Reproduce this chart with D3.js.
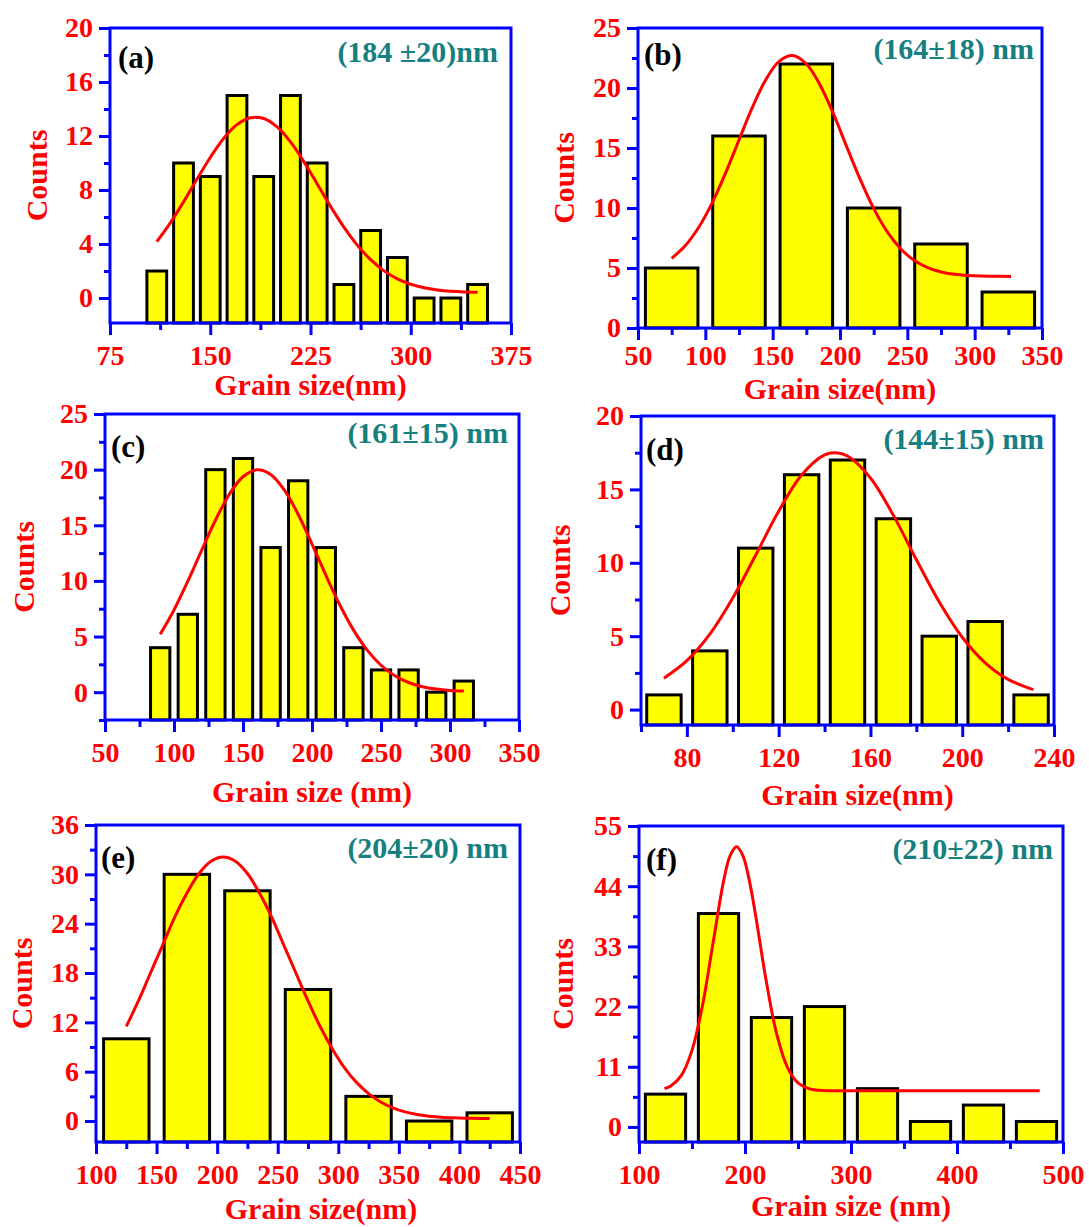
<!DOCTYPE html>
<html lang="en">
<head>
<meta charset="UTF-8">
<title>Grain size histograms</title>
<style>
    body { margin: 0; background: #fff; }
    svg text { font-family: 'Liberation Serif', 'Times New Roman', serif; font-weight: bold; }
    .frame { fill: none; stroke: #0000ff; stroke-width: 3; }
    .bar { fill: #ffff00; stroke: #000; stroke-width: 3; }
    .fit { fill: none; stroke: #ff0000; stroke-width: 3; }
    .axisTitle { fill: #ff0000; font-size: 30px; }
    .tag { fill: #000; font-size: 31px; }
    .size { fill: #168080; font-size: 30px; }
</style>
<script src="https://d3js.org/d3.v7.min.js"></script>
</head>
<body>
<script>
    // (a)
    const aBins = [110, 130, 150, 170, 190, 210, 230, 250, 270, 290, 310, 330, 350];
    const aCounts = [2, 10, 9, 15, 9, 15, 10, 1, 5, 3, 0, 0, 1];
    const aFitX = [110, 120, 130, 140, 150, 160, 170, 180, 190, 200, 210, 220, 230, 240, 250, 260, 270, 280, 290, 300, 310, 320, 330, 340, 350];
    const aFitY = [4.17, 5.55, 7.12, 8.79, 10.41, 11.82, 12.84, 13.35, 13.3, 12.67, 11.56, 10.1, 8.45, 6.79, 5.25, 3.92, 2.84, 2.01, 1.42, 1.02, 0.76, 0.6, 0.5, 0.45, 0.43];
    const aXTicks = [75, 150, 225, 300, 375];
    const aYTicks = [0, 4, 8, 12, 16, 20];

    // (b)
    const bBins = [75, 125, 175, 225, 275, 325];
    const bCounts = [5, 16, 22, 10, 7, 3];
    const bFitX = [75, 85, 95, 105, 115, 125, 135, 145, 155, 165, 175, 185, 195, 205, 215, 225, 235, 245, 255, 265, 275, 285, 295, 305, 315, 327];
    const bFitY = [5.8, 6.85, 8.38, 10.41, 12.91, 15.67, 18.4, 20.71, 22.24, 22.7, 22.0, 20.3, 17.88, 15.1, 12.38, 9.97, 8.03, 6.61, 5.64, 5.03, 4.67, 4.48, 4.38, 4.33, 4.31, 4.3];
    const bXTicks = [50, 100, 150, 200, 250, 300, 350];
    const bYTicks = [0, 5, 10, 15, 20, 25];

    // (c)
    const cBins = [90, 110, 130, 150, 170, 190, 210, 230, 250, 270, 290, 310];
    const cCounts = [4, 7, 20, 21, 13, 19, 13, 4, 2, 2, 0, 1];
    const cFitX = [90, 100, 110, 120, 130, 140, 150, 160, 170, 180, 190, 200, 210, 220, 230, 240, 250, 260, 270, 280, 290, 300, 310];
    const cFitY = [5.2, 7.39, 9.97, 12.75, 15.45, 17.77, 19.36, 19.98, 19.57, 18.16, 15.97, 13.31, 10.52, 7.88, 5.6, 3.78, 2.42, 1.48, 0.87, 0.49, 0.28, 0.16, 0.1];
    const cXTicks = [50, 100, 150, 200, 250, 300, 350];
    const cYTicks = [0, 5, 10, 15, 20, 25];

    // (d)
    const dBins = [70, 90, 110, 130, 150, 170, 190, 210, 230];
    const dCounts = [1, 4, 11, 16, 17, 13, 5, 6, 1];
    const dFitX = [70, 80, 90, 100, 110, 120, 130, 140, 145, 150, 160, 170, 180, 190, 200, 210, 220, 231];
    const dFitY = [2.14, 3.33, 5.14, 7.6, 10.53, 13.51, 15.98, 17.35, 17.5, 17.27, 15.78, 13.23, 10.22, 7.33, 4.93, 3.19, 2.06, 1.36];
    const dXTicks = [80, 120, 160, 200, 240];
    const dYTicks = [0, 5, 10, 15, 20];

    // (e)
    const eBins = [125, 175, 225, 275, 325, 375, 425];
    const eCounts = [10, 30, 28, 16, 3, 0, 1];
    const eFitX = [125, 135, 145, 155, 165, 175, 185, 195, 205, 215, 225, 235, 245, 255, 265, 275, 285, 295, 305, 315, 325, 335, 345, 355, 365, 375, 385, 395, 410, 425];
    const eFitY = [11.5, 14.6, 18.0, 21.4, 24.8, 27.7, 30.1, 31.6, 32.1, 31.6, 30.1, 27.7, 24.8, 21.4, 18.0, 14.6, 11.5, 8.8, 6.5, 4.7, 3.34, 2.32, 1.6, 1.11, 0.79, 0.59, 0.46, 0.39, 0.33, 0.31];
    const eXTicks = [100, 150, 200, 250, 300, 350, 400, 450];
    const eYTicks = [0, 6, 12, 18, 24, 30, 36];

    // (f)
    const fBins = [125, 175, 225, 275, 325, 375, 425, 475];
    const fCounts = [6, 39, 20, 22, 7, 1, 4, 1];
    const fFitX = [124, 130, 140, 150, 160, 170, 180, 186, 192, 198, 204, 210, 220, 230, 240, 250, 260, 270, 280, 300, 340, 380, 420, 478];
    const fFitY = [7.0, 7.49, 9.44, 14.0, 22.3, 33.8, 45.1, 49.6, 51.2, 49.6, 45.1, 38.7, 26.7, 16.9, 10.9, 8.05, 7.0, 6.69, 6.62, 6.6, 6.6, 6.6, 6.6, 6.6];
    const fXTicks = [100, 200, 300, 400, 500];
    const fYTicks = [0, 11, 22, 33, 44, 55];

    const tags = ['(a)', '(b)', '(c)', '(d)', '(e)', '(f)'];
    const sizes = ['(184 \u00b120)nm', '(164\u00b118) nm', '(161\u00b115) nm', '(144\u00b115) nm', '(204\u00b120) nm', '(210\u00b122) nm'];
    const xTitles = ['Grain size(nm)', 'Grain size(nm)', 'Grain size (nm)', 'Grain size(nm)', 'Grain size(nm)', 'Grain size (nm)'];

    // layout of each panel (pixels)
    const layout = [
        {left: 110, right: 511, top: 28, bottom: 323, yMin: -1.85, countsX: 36, titleY: 395, titleDx: 0, pad: 10, tagDx: 8, tagDy: 40, sizeDx: 13, sizeDy: 34, barFrac: 0.74},
        {left: 638, right: 1042, top: 28, bottom: 328, yMin: 0, countsX: 563, titleY: 399, titleDx: 0, pad: 5, tagDx: 6, tagDy: 37, sizeDx: 8, sizeDy: 31, barFrac: 0.78},
        {left: 105, right: 519, top: 414, bottom: 720, yMin: -2.5, countsX: 23, titleY: 802, titleDx: 0, pad: 10, tagDx: 6, tagDy: 43, sizeDx: 11, sizeDy: 29, barFrac: 0.7},
        {left: 641, right: 1054, top: 416, bottom: 725, yMin: -1.05, countsX: 559, titleY: 805, titleDx: 10, pad: 10, tagDx: 5, tagDy: 44, sizeDx: 10, sizeDy: 33, barFrac: 0.75},
        {left: 96, right: 520, top: 825, bottom: 1142, yMin: -2.55, countsX: 21, titleY: 1219, titleDx: 13, pad: 10, tagDx: 5, tagDy: 43, sizeDx: 12, sizeDy: 33, barFrac: 0.75},
        {left: 639, right: 1063, top: 826, bottom: 1142, yMin: -2.75, countsX: 562, titleY: 1216, titleDx: 0, pad: 10, tagDx: 7, tagDy: 44, sizeDx: 10, sizeDy: 33, barFrac: 0.76}
    ];

    const panels = [
        {bins: aBins, counts: aCounts, fitX: aFitX, fitY: aFitY, xTicks: aXTicks, yTicks: aYTicks, xDomain: [75, 375]},
        {bins: bBins, counts: bCounts, fitX: bFitX, fitY: bFitY, xTicks: bXTicks, yTicks: bYTicks, xDomain: [50, 350]},
        {bins: cBins, counts: cCounts, fitX: cFitX, fitY: cFitY, xTicks: cXTicks, yTicks: cYTicks, xDomain: [50, 350]},
        {bins: dBins, counts: dCounts, fitX: dFitX, fitY: dFitY, xTicks: dXTicks, yTicks: dYTicks, xDomain: [60, 240]},
        {bins: eBins, counts: eCounts, fitX: eFitX, fitY: eFitY, xTicks: eXTicks, yTicks: eYTicks, xDomain: [100, 450]},
        {bins: fBins, counts: fCounts, fitX: fFitX, fitY: fFitY, xTicks: fXTicks, yTicks: fYTicks, xDomain: [100, 500]}
    ];

    const width = 1089;
    const height = 1227;
    const svg = d3.select('body').append('svg').attr('width', width).attr('height', height);

    // half-step ticks between (and just outside) the major ones
    function minorTicks(major, domain) {
        const step = major[1] - major[0];
        const out = [];
        for (let v = major[0] - step / 2; v <= major[major.length - 1] + step / 2; v += step) {
            if (v >= domain[0] - 1e-9 && v <= domain[1] + 1e-9) out.push(v);
        }
        return out;
    }

    function styleAxis(g, withText) {
        g.attr('font-family', null).attr('font-size', null);
        g.select('.domain').remove();
        g.selectAll('line').attr('stroke', '#0000ff').attr('stroke-width', 3);
        if (withText) {
            g.selectAll('text').attr('fill', '#ff0000').style('font-size', '28px');
        }
    }

    panels.forEach((p, i) => {
        const L = layout[i];
        const yTop = p.yTicks[p.yTicks.length - 1];
        const x = d3.scaleLinear().domain(p.xDomain).range([L.left, L.right]);
        const y = d3.scaleLinear().domain([L.yMin, yTop]).range([L.bottom, L.top]);
        const g = svg.append('g');

        const bin = p.bins[1] - p.bins[0];
        const bw = L.barFrac * (x(bin) - x(0));
        g.selectAll('rect.bar').data(d3.zip(p.bins, p.counts)).enter().append('rect')
            .attr('class', 'bar')
            .attr('x', d => x(d[0]) - bw / 2)
            .attr('y', d => y(d[1]))
            .attr('width', bw)
            .attr('height', d => y(L.yMin) - y(d[1]));

        g.append('rect').attr('class', 'frame')
            .attr('x', L.left).attr('y', L.top)
            .attr('width', L.right - L.left).attr('height', L.bottom - L.top);

        const gxMinor = g.append('g').attr('transform', `translate(0,${L.bottom})`)
            .call(d3.axisBottom(x).tickValues(minorTicks(p.xTicks, p.xDomain)).tickSize(7).tickFormat(''));
        styleAxis(gxMinor, false);
        const gx = g.append('g').attr('transform', `translate(0,${L.bottom})`)
            .call(d3.axisBottom(x).tickValues(p.xTicks).tickSize(12).tickPadding(L.pad).tickFormat(d3.format('d')));
        styleAxis(gx, true);

        const gyMinor = g.append('g').attr('transform', `translate(${L.left},0)`)
            .call(d3.axisLeft(y).tickValues(minorTicks(p.yTicks, [L.yMin, yTop])).tickSize(6).tickFormat(''));
        styleAxis(gyMinor, false);
        const gy = g.append('g').attr('transform', `translate(${L.left},0)`)
            .call(d3.axisLeft(y).tickValues(p.yTicks).tickSize(11).tickPadding(6).tickFormat(d3.format('d')));
        styleAxis(gy, true);

        const line = d3.line().x(d => x(d[0])).y(d => y(d[1])).curve(d3.curveCatmullRom);
        g.append('path').attr('class', 'fit').attr('d', line(d3.zip(p.fitX, p.fitY)));

        g.append('text').attr('class', 'axisTitle')
            .attr('x', (L.left + L.right) / 2 + L.titleDx).attr('y', L.titleY)
            .attr('text-anchor', 'middle').text(xTitles[i]);
        g.append('text').attr('class', 'axisTitle')
            .attr('transform', `translate(${L.countsX},${(L.top + L.bottom) / 2}) rotate(-90)`)
            .attr('dy', '0.35em').attr('text-anchor', 'middle').text('Counts');
        g.append('text').attr('class', 'tag')
            .attr('x', L.left + L.tagDx).attr('y', L.top + L.tagDy).text(tags[i]);
        g.append('text').attr('class', 'size')
            .attr('x', L.right - L.sizeDx).attr('y', L.top + L.sizeDy)
            .attr('text-anchor', 'end').text(sizes[i]);
    });
</script>
</body>
</html>
